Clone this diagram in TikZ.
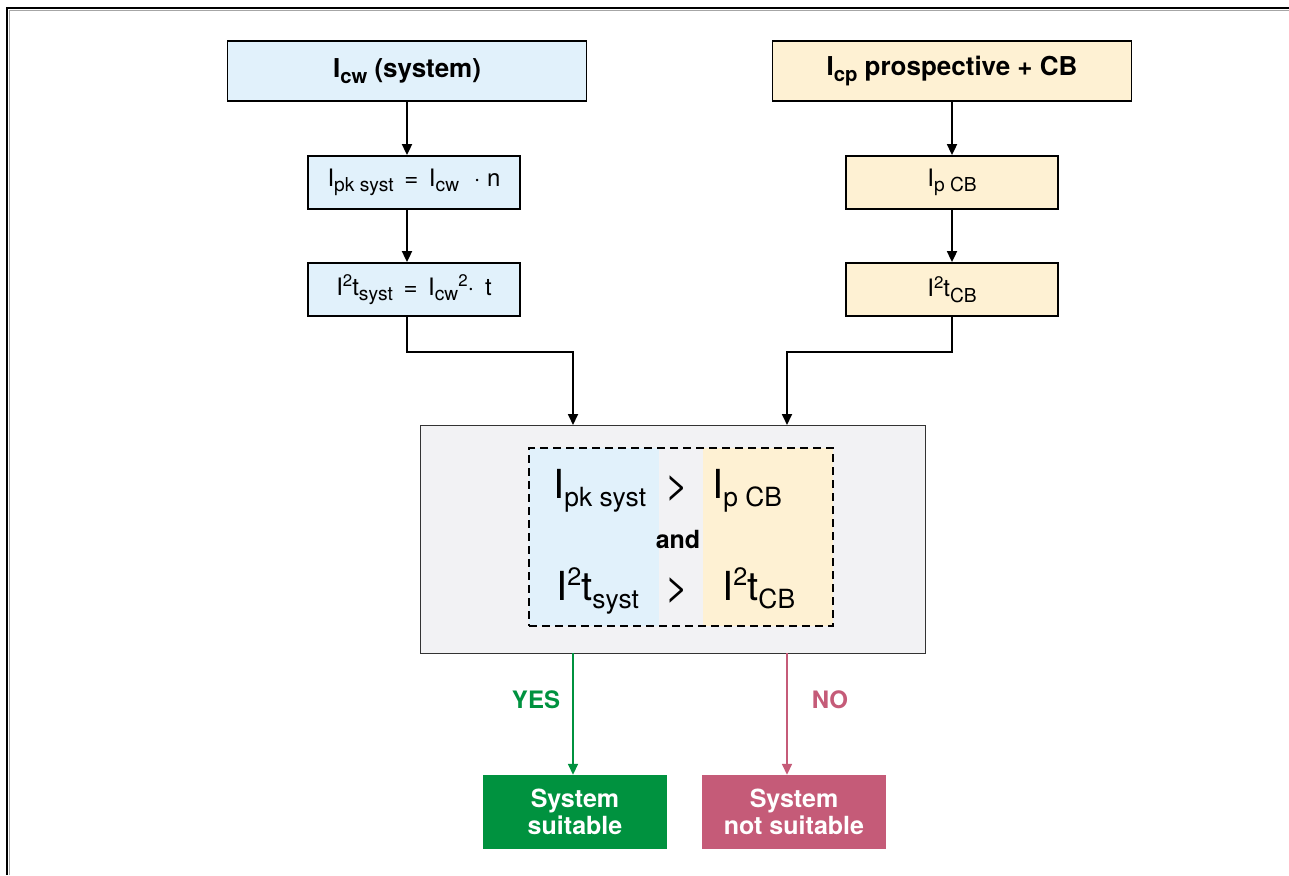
\documentclass[tikz,border=0pt]{standalone}
\usepackage{fontspec}
\setmainfont{TeX Gyre Heros}
\usetikzlibrary{arrows.meta}

\definecolor{sysblue}{HTML}{E1F1FB}
\definecolor{cbyellow}{HTML}{FEF1D3}
\definecolor{testgrey}{HTML}{F2F2F4}
\definecolor{okgreen}{HTML}{00923F}
\definecolor{kored}{HTML}{C55B78}

% lowered / raised smaller text, scaled relative to the current font
\newcommand\lo[2][0.7]{\raisebox{-0.22em}{\scalebox{#1}{#2}}}
\newcommand\hi[2][0.7]{\raisebox{0.36em}{\scalebox{#1}{#2}}}

\tikzset{
  flowbox/.style={draw=black, line width=1.8pt, inner sep=0pt, align=center},
  headbox/.style={flowbox, minimum width=359, minimum height=60,
                  font=\bfseries\fontsize{26}{30}\selectfont},
  calcbox/.style={flowbox, minimum width=212, minimum height=53,
                  font=\fontsize{24}{28}\selectfont},
  resultbox/.style={inner sep=0pt, minimum width=184, minimum height=74, align=center,
                  text=white, font=\bfseries\fontsize{25}{27}\selectfont},
  bigtext/.style={inner sep=0pt, font=\fontsize{40}{46}\selectfont},
  conn/.style={draw=black, line width=1.8pt, -{Triangle[length=11pt,width=10pt]}},
  answer/.style={inner sep=0pt, font=\bfseries\fontsize{24}{28}\selectfont},
}

\begin{document}
\begin{tikzpicture}[x=1pt, y=-1pt]
\useasboundingbox (0,0) rectangle (1289,875);
\fill[white] (0,0) rectangle (1289,875);

% page frame (top and left edges)
\draw[gray!70, line width=1pt] (9.5,875) -- (9.5,10.5) -- (1289,10.5);
\draw[black, line width=2pt] (7,875) -- (7,8) -- (1289,8);

% system branch
\node[headbox, fill=sysblue] (ta) at (407,71) {I\lo[0.78]{cw} (system)};
\node[calcbox, fill=sysblue] (a2) at (414,182.5)
  {I\lo[0.8]{pk syst}\, =\, I\lo[0.8]{cw}\,\, · n};
\node[calcbox, fill=sysblue] (a3) at (414,289.5)
  {I\hi[0.7]{2}t\lo[0.8]{syst}\, =\, I\lo[0.8]{cw}\hi[0.7]{2}· \,t};

% circuit-breaker branch
\node[headbox, fill=cbyellow] (tb) at (952,71) {I\lo[0.78]{cp} prospective + CB};
\node[calcbox, fill=cbyellow] (b2) at (952,182.5) {I\lo[0.8]{p CB}};
\node[calcbox, fill=cbyellow] (b3) at (952,289.5) {I\hi[0.7]{2}t\lo[0.8]{CB}};

% comparison block
\node[draw=black!80, line width=1pt, fill=testgrey, inner sep=0pt,
      minimum width=505, minimum height=228] (cen) at (672.5,539) {};
\fill[sysblue] (529,448) rectangle (659,626);
\fill[cbyellow] (703,448) rectangle (833,626);
\node[draw=black, line width=1.8pt, dash pattern=on 8pt off 5pt, inner sep=0pt,
      minimum width=304, minimum height=178] (cond) at (681,537) {};

\node[bigtext, anchor=base west] (c1) at (553,498) {I\lo[0.66]{pk syst}};
\node[bigtext, anchor=base] (g1) at (677,498) {>};
\node[bigtext, anchor=base west] (d1) at (712,498) {I\lo[0.66]{p CB}};
\node[inner sep=0pt, anchor=base, font=\bfseries\fontsize{25}{30}\selectfont] (and) at (678,548) {and};
\node[bigtext, anchor=base west] (c2) at (556,600) {I\hi[0.63]{2}t\lo[0.66]{syst}};
\node[bigtext, anchor=base] (g2) at (677,600) {>};
\node[bigtext, anchor=base west] (d2) at (722,600) {I\hi[0.63]{2}t\lo[0.66]{CB}};

% outcomes
\node[resultbox, fill=okgreen] (yes) at (575,812) {System\\suitable};
\node[resultbox, fill=kored] (no) at (794,812) {System\\not suitable};

% connectors
\coordinate (inL) at (573,425);
\coordinate (inR) at (787,425);
\coordinate (outL) at (573,653);
\coordinate (outR) at (787,653);

\draw[conn] (ta.south) -- (ta.south |- a2.north);
\draw[conn] (ta.south |- a2.south) -- (ta.south |- a3.north);
\draw[conn] (ta.south |- a3.south) -- (407,352) -| (inL);
\draw[conn] (tb.south) -- (b2.north);
\draw[conn] (b2.south) -- (b3.north);
\draw[conn] (b3.south) -- (952,352) -| (inR);

\draw[okgreen, line width=1.6pt, -{Triangle[length=11pt,width=10pt]}] (outL) -- (outL |- yes.north);
\draw[kored, line width=1.6pt, -{Triangle[length=11pt,width=10pt]}] (outR) -- (outR |- no.north);

\node[answer, text=okgreen] (yeslbl) at (536,700) {YES};
\node[answer, text=kored] (nolbl) at (830,700) {NO};
\end{tikzpicture}
\end{document}
